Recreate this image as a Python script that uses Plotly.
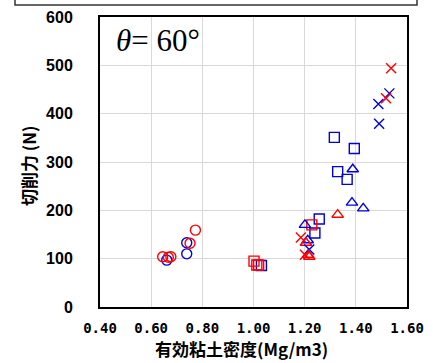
import plotly.graph_objects as go

# ---- data ----
blue_circle_x = [0.661, 0.739, 0.739]
blue_circle_y = [97, 133, 110]
red_circle_x = [0.645, 0.667, 0.677, 0.752, 0.773]
red_circle_y = [104, 103, 104, 132, 159]

blue_square_x = [1.031, 1.240, 1.257, 1.316, 1.329, 1.366, 1.394]
blue_square_y = [86, 153, 182, 351, 280, 264, 328]
red_square_x = [1.002, 1.013, 1.020, 1.228]
red_square_y = [95, 87, 87, 170]

blue_tri_x = [1.201, 1.212, 1.388, 1.385, 1.429]
blue_tri_y = [170, 138, 285, 216, 204]
red_tri_x = [1.205, 1.218, 1.213, 1.329]
red_tri_y = [133, 104, 108, 191]

blue_x_x = [1.218, 1.488, 1.491, 1.531]
blue_x_y = [119, 420, 379, 442]
red_x_x = [1.185, 1.201, 1.518, 1.538]
red_x_y = [144, 108, 432, 494]

x_ticks = [0.4, 0.6, 0.8, 1.0, 1.2, 1.4, 1.6]
x_tick_labels = ["0.40", "0.60", "0.80", "1.00", "1.20", "1.40", "1.60"]
y_ticks = [0, 100, 200, 300, 400, 500, 600]

RED = "#FF0000"
BLUE = "#0000DD"

fig = go.Figure()

def add(xs, ys, symbol, color, size):
    fig.add_trace(go.Scatter(
        x=xs, y=ys, mode="markers", cliponaxis=False,
        marker=dict(symbol=symbol, size=size, color=color,
                    line=dict(color=color, width=1.4)),
        showlegend=False, hoverinfo="skip",
    ))

add(blue_circle_x, blue_circle_y, "circle-open", BLUE, 10)
add(red_circle_x, red_circle_y, "circle-open", RED, 10)
add(blue_square_x, blue_square_y, "square-open", BLUE, 10)
add(red_square_x, red_square_y, "square-open", RED, 10)
add(blue_tri_x, blue_tri_y, "triangle-up-open", BLUE, 10)
add(red_tri_x, red_tri_y, "triangle-up-open", RED, 10)
add(blue_x_x, blue_x_y, "x-thin-open", BLUE, 10)
add(red_x_x, red_x_y, "x-thin-open", RED, 10)

fig.update_layout(
    width=433, height=363,
    margin=dict(l=100, r=26, t=17, b=56),
    paper_bgcolor="white", plot_bgcolor="white",
    xaxis=dict(
        range=[0.4, 1.6], tickvals=x_ticks, ticktext=x_tick_labels,
        showgrid=True, gridcolor="#d9d9d9", gridwidth=1,
        showline=True, linecolor="black", linewidth=2, mirror=True,
        zeroline=False, ticks="", ticklabelstandoff=7, automargin=False,
        tickfont=dict(family="DejaVu Sans Mono", size=14, color="black", weight="bold"),
    ),
    yaxis=dict(
        range=[0, 600], tickvals=y_ticks,
        showgrid=True, gridcolor="#d9d9d9", gridwidth=1,
        showline=True, linecolor="black", linewidth=2, mirror=True,
        zeroline=False, ticks="", ticklabelstandoff=22, automargin=False,
        tickfont=dict(family="Liberation Sans Narrow, Arial Narrow, Liberation Sans", size=16,
                      color="black", weight="bold"),
    ),
    annotations=[
        dict(
            xref="paper", yref="paper", x=0.045, y=0.92, xanchor="left", yanchor="middle",
            text="<i>θ</i>= 60°", showarrow=False,
            font=dict(family="Liberation Serif", size=31, color="black"),
        ),
        dict(
            xref="paper", yref="paper", x=(241 - 100) / 307, y=(307 - 362) / 290,
            xanchor="center", yanchor="bottom", text="有効粘土密度(Mg/m3)", showarrow=False,
            borderpad=0,
            font=dict(family="Noto Sans CJK JP", size=17, color="black", weight="bold"),
        ),
        dict(
            xref="paper", yref="paper", x=(28 - 100) / 307, y=(307 - 166) / 290,
            xanchor="center", yanchor="middle", textangle=-90, text="切削力 (N)", showarrow=False,
            font=dict(family="Noto Sans CJK JP", size=17, color="black", weight="bold"),
        ),
    ],
    shapes=[dict(
        type="rect", xref="paper", yref="paper",
        x0=(15 - 100) / 307, x1=(417 - 100) / 307,
        y0=(307 - 5) / 290, y1=(307 + 20) / 290,
        line=dict(color="#333333", width=1.5), fillcolor="rgba(0,0,0,0)",
    )],
)

fig.write_html(
    "out.html",
    config={"displayModeBar": False},
    post_script="document.body.style.margin='0';document.body.style.overflow='hidden';",
)
